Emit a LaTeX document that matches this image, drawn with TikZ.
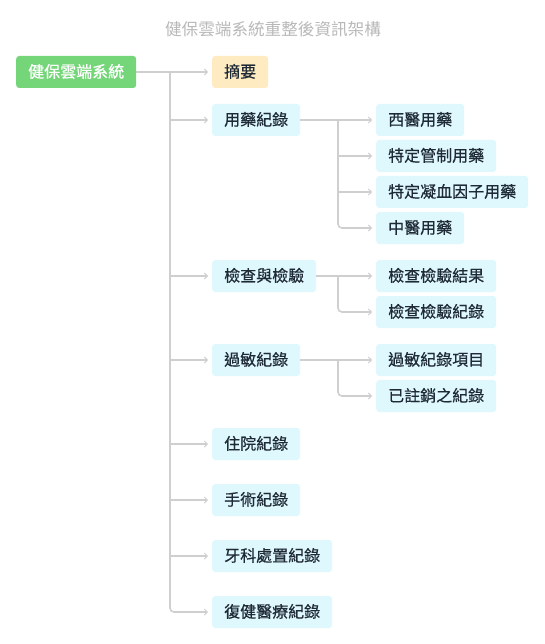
\documentclass[tikz,border=0pt]{standalone}
\usepackage{fontspec}
\setmainfont{Noto Sans CJK TC}
\newfontfamily\medfont[FakeBold=0.6]{Noto Sans CJK TC}
\usetikzlibrary{arrows.meta}
\definecolor{rootgreen}{HTML}{74D679}
\definecolor{sumorange}{HTML}{FFEBC2}
\definecolor{boxblue}{HTML}{DFF8FD}
\definecolor{txtdark}{HTML}{1F2A37}
\definecolor{linegray}{HTML}{CFCFCF}
\definecolor{titlegray}{HTML}{B8B8B8}
\tikzset{
  box/.style={rounded corners=3pt, minimum height=32pt, inner xsep=12pt, inner ysep=0pt,
    text height=13pt, text depth=2pt, font=\medfont\fontsize{16pt}{18pt}\selectfont, text=txtdark, anchor=west},
  bluebox/.style={box, fill=boxblue},
  conn/.style={draw=linegray, line width=1.2pt, -{Straight Barb[length=3pt,width=6pt,line width=0.9pt]}, shorten >=4pt},
  trunk/.style={draw=linegray, line width=1.6pt, rounded corners=4pt, -{Straight Barb[length=3pt,width=6pt,line width=0.9pt]}, shorten >=4pt},
}
\begin{document}
\begin{tikzpicture}[x=1pt,y=-1pt]
\useasboundingbox (0,0) rectangle (544,644);
\node[text=titlegray, font=\fontsize{16.6pt}{18pt}\selectfont] (title) at (273,29) {健保雲端系統重整後資訊架構};
\node[box, fill=rootgreen, text=white] (root) at (16,72) {健保雲端系統};
\node[box, fill=sumorange] (sum) at (212,72) {摘要};
\node[bluebox] (med) at (212,120) {用藥紀錄};
\node[bluebox] (med1) at (376,120) {西醫用藥};
\node[bluebox] (med2) at (376,156) {特定管制用藥};
\node[bluebox] (med3) at (376,192) {特定凝血因子用藥};
\node[bluebox] (med4) at (376,228) {中醫用藥};
\node[bluebox] (lab) at (212,276) {檢查與檢驗};
\node[bluebox] (lab1) at (376,276) {檢查檢驗結果};
\node[bluebox] (lab2) at (376,312) {檢查檢驗紀錄};
\node[bluebox] (alg) at (212,360) {過敏紀錄};
\node[bluebox] (alg1) at (376,360) {過敏紀錄項目};
\node[bluebox] (alg2) at (376,396) {已註銷之紀錄};
\node[bluebox] (hosp) at (212,444) {住院紀錄};
\node[bluebox] (surg) at (212,500) {手術紀錄};
\node[bluebox] (dent) at (212,556) {牙科處置紀錄};
\node[bluebox] (rehab) at (212,612) {復健醫療紀錄};
% main trunk
\coordinate (t) at (170,72);
\draw[conn] (root.east) -- (sum.west);
\draw[trunk] (t) |- (rehab.west);
\foreach \n in {med,lab,alg,hosp,surg,dent} \draw[conn] (t |- \n.west) -- (\n.west);
% sub trunks
\coordinate (s1) at (338,120);
\draw[conn] (med.east) -- (med1.west);
\draw[trunk] (s1) |- (med4.west);
\foreach \n in {med2,med3} \draw[conn] (s1 |- \n.west) -- (\n.west);
\coordinate (s2) at (338,276);
\draw[conn] (lab.east) -- (lab1.west);
\draw[trunk] (s2) |- (lab2.west);
\coordinate (s3) at (338,360);
\draw[conn] (alg.east) -- (alg1.west);
\draw[trunk] (s3) |- (alg2.west);
\end{tikzpicture}
\end{document}
